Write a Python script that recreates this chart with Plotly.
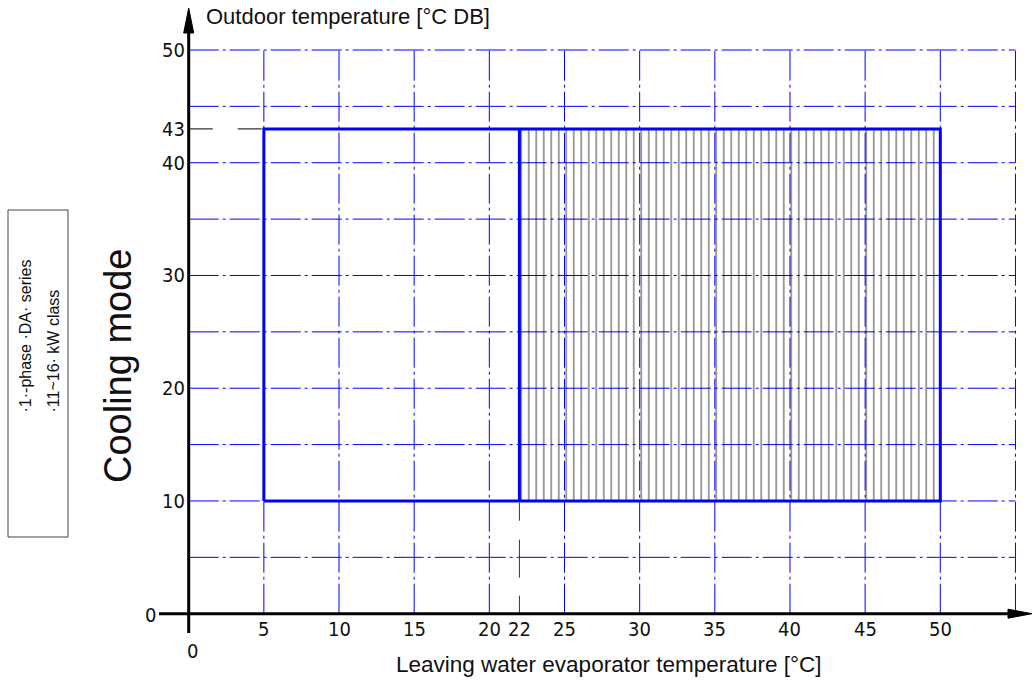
import plotly.graph_objects as go

# ---------------- data ----------------
LWT_LIMITS = [5, 22, 50]          # leaving water temp: min, split, max  [°C]
OAT_LIMITS = [10, 43]             # outdoor temp: min, max  [°C DB]
GRID_X = [5, 10, 15, 20, 25, 30, 35, 40, 45, 50, 55]
GRID_Y = [5, 10, 15, 20, 25, 30, 35, 40, 45, 50]
X_TICKS = [5, 10, 15, 20, 22, 25, 30, 35, 40, 45, 50]
X_TICK_LABELS = ["5", "10", "15", "20", "22", "25", "30", "35", "40", "45", "50"]
Y_TICKS = [10, 20, 30, 40, 43, 50]
Y_TICK_LABELS = ["10", "20", "30", "40", "43", "50"]
X_TITLE = "Leaving water evaporator temperature [°C]"
Y_TITLE = "Outdoor temperature [°C DB]"
MODE_TEXT = "Cooling mode"
BOX_LINES = ["·1·-phase ·DA· series", "·11~16· kW class"]

# ---------------- layout calibration ----------------
W, H = 1032, 681
X0_PX, X_SCALE = 188.7, 15.032     # pixel of x=0, px per unit
Y0_PX, Y_SCALE = 613.7, 11.274     # pixel of y=0, px per unit
x_range = [-X0_PX / X_SCALE, (W - X0_PX) / X_SCALE]
y_range = [-(H - Y0_PX) / Y_SCALE, Y0_PX / Y_SCALE]


def px_x(p):
    return (p - X0_PX) / X_SCALE


def px_y(p):
    return (Y0_PX - p) / Y_SCALE


BLUE = "#0000FF"
TICK_FONT = dict(family="Liberation Sans Narrow, DejaVu Sans Condensed, Arial Narrow, sans-serif",
                 size=20, color="#111")
TEXT_FONT = "Liberation Sans, Arial, sans-serif"
GRID_DASH = "30px,4px,3px,4px"

lmin, lsplit, lmax = LWT_LIMITS
omin, omax = OAT_LIMITS

fig = go.Figure()

# hatched region (split .. max)
fig.add_trace(go.Scatter(
    x=[lsplit, lmax, lmax, lsplit, lsplit], y=[omin, omin, omax, omax, omin],
    mode="lines", line=dict(width=0), fill="toself",
    fillcolor="rgba(0,0,0,0)",
    fillpattern=dict(shape="|", size=7.5, solidity=0.2, fgcolor="#000", bgcolor="rgba(0,0,0,0)"),
    hoverinfo="skip", showlegend=False))

# operating envelope outline
fig.add_trace(go.Scatter(
    x=[lmin, lmax, lmax, lmin, lmin], y=[omin, omin, omax, omax, omin],
    mode="lines", line=dict(color=BLUE, width=3), hoverinfo="skip", showlegend=False))
fig.add_trace(go.Scatter(
    x=[lsplit, lsplit], y=[omin, omax],
    mode="lines", line=dict(color=BLUE, width=3), hoverinfo="skip", showlegend=False))

shapes = []
# grid
for gx in GRID_X:
    shapes.append(dict(type="line", xref="x", yref="y", x0=gx, x1=gx, y0=0, y1=max(GRID_Y),
                       line=dict(color=BLUE, width=1, dash=GRID_DASH), layer="below"))
for gy in GRID_Y:
    shapes.append(dict(type="line", xref="x", yref="y", x0=0, x1=max(GRID_X), y0=gy, y1=gy,
                       line=dict(color=BLUE, width=1, dash=GRID_DASH), layer="below"))
# black dashed reference lines
shapes.append(dict(type="line", xref="x", yref="y", x0=0, x1=lmin, y0=omax, y1=omax,
                   line=dict(color="black", width=1, dash="24px,25px"), layer="below"))
shapes.append(dict(type="line", xref="x", yref="y", x0=lsplit, x1=lsplit, y0=0, y1=omin,
                   line=dict(color="#333", width=1, dash="18px,18px,38px,19px"), layer="below"))
# axes
shapes.append(dict(type="line", xref="x", yref="y", x0=0, x1=0, y0=px_y(633), y1=px_y(30),
                   line=dict(color="black", width=3), layer="above"))
shapes.append(dict(type="line", xref="x", yref="y", x0=px_x(159), x1=px_x(1012), y0=0, y1=0,
                   line=dict(color="black", width=3), layer="above"))
# arrow heads
ty, by, hw = px_y(8), px_y(33), 5 / X_SCALE
shapes.append(dict(type="path", xref="x", yref="y",
                   path=f"M {-hw} {by} L 0 {ty} L {hw} {by} Z",
                   fillcolor="black", line=dict(color="black", width=1), layer="above"))
tx, bx, hh = px_x(1032), px_x(1008), 4.5 / Y_SCALE
shapes.append(dict(type="path", xref="x", yref="y",
                   path=f"M {bx} {-hh} L {tx} 0 L {bx} {hh} Z",
                   fillcolor="black", line=dict(color="black", width=1), layer="above"))
# side label box
shapes.append(dict(type="rect", xref="paper", yref="paper",
                   x0=8 / W, x1=68 / W, y0=1 - 537 / H, y1=1 - 210 / H,
                   line=dict(color="#444", width=1), fillcolor="rgba(0,0,0,0)"))

annotations = []
for v, t in zip(X_TICKS, X_TICK_LABELS):
    annotations.append(dict(x=v, y=1 - 629 / H, xref="x", yref="paper", text=t, showarrow=False,
                            xanchor="center", yanchor="middle", font=TICK_FONT))
for v, t in zip(Y_TICKS, Y_TICK_LABELS):
    annotations.append(dict(x=187 / W, y=v, xref="paper", yref="y", text=t, showarrow=False,
                            xanchor="right", yanchor="middle", font=TICK_FONT))
annotations.append(dict(x=150 / W, y=1 - 615 / H, xref="paper", yref="paper", text="0",
                        showarrow=False, xanchor="center", yanchor="middle", font=TICK_FONT))
annotations.append(dict(x=192 / W, y=1 - 651 / H, xref="paper", yref="paper", text="0",
                        showarrow=False, xanchor="center", yanchor="middle", font=TICK_FONT))
# titles
annotations.append(dict(x=204 / W, y=1 - 17 / H, xref="paper", yref="paper", text=Y_TITLE,
                        showarrow=False, xanchor="left", yanchor="middle",
                        font=dict(family=TEXT_FONT, size=22, color="#111")))
annotations.append(dict(x=608 / W, y=1 - 664 / H, xref="paper", yref="paper", text=X_TITLE,
                        showarrow=False, xanchor="center", yanchor="middle",
                        font=dict(family=TEXT_FONT, size=22.5, color="#111")))
annotations.append(dict(x=118 / W, y=1 - 366 / H, xref="paper", yref="paper", text=MODE_TEXT,
                        showarrow=False, xanchor="center", yanchor="middle", textangle=-90,
                        font=dict(family=TEXT_FONT, size=38, color="#111")))
for cx, line in zip([25, 53], BOX_LINES):
    annotations.append(dict(x=cx / W, y=1 - 414 / H, xref="paper", yref="paper", text=line,
                            showarrow=False, xanchor="center", yanchor="bottom", textangle=-90,
                            borderpad=0,
                            font=dict(family=TEXT_FONT, size=16, color="#111")))

fig.update_layout(
    width=W, height=H, margin=dict(l=0, r=0, t=0, b=0),
    paper_bgcolor="white", plot_bgcolor="white",
    xaxis=dict(range=x_range, visible=False, fixedrange=True),
    yaxis=dict(range=y_range, visible=False, fixedrange=True),
    shapes=shapes, annotations=annotations, showlegend=False,
)

fig.write_html("out.html", config={"displayModeBar": False},
               post_script="document.body.style.margin='0px';document.body.style.overflow='hidden';")
